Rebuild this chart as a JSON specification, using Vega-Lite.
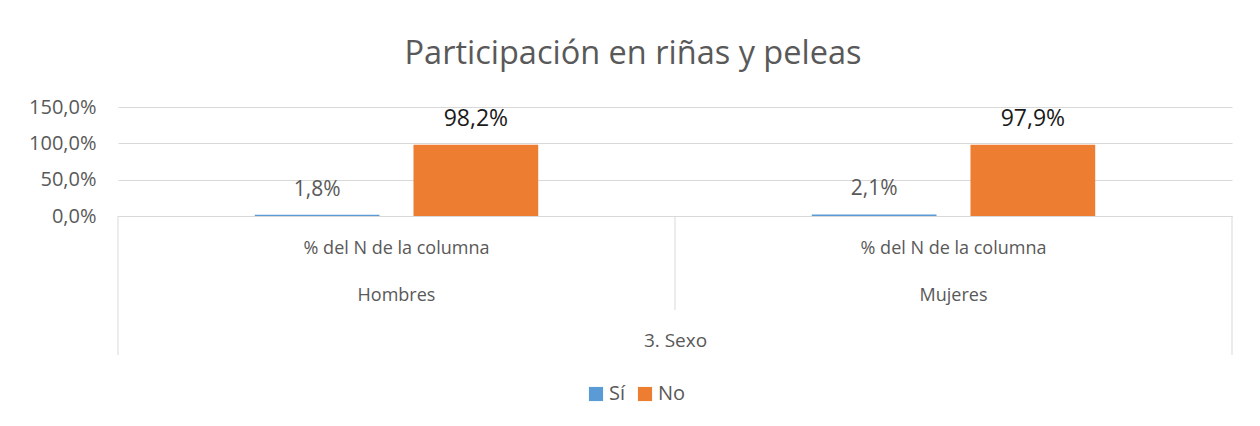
{
  "$schema": "https://vega.github.io/schema/vega-lite/v6.json",
  "autosize": {"type": "none"},
  "width": 1114,
  "height": 109,
  "padding": {"left": 118, "top": 107, "right": 28, "bottom": 210},
  "background": "white",
  "config": {
    "font": "Open Sans",
    "view": {"stroke": null},
    "locale": {"number": {"decimal": ",", "thousands": ".", "grouping": [3], "currency": ["", " €"]}},
    "axisY": {
      "tickCount": 3,
      "labelExpr": "replace(format(datum.value, '.1%'), '.', ',')",
      "labelFontSize": 20,
      "labelColor": "#595959",
      "labelPadding": 22,
      "labelOverlap": false,
      "domain": false,
      "ticks": false,
      "grid": true,
      "gridColor": "#d9d9d9"
    },
    "axisX": {
      "labelAngle": 0,
      "labelExpr": "['% del N de la columna', datum.label]",
      "labelLineHeight": 47,
      "labelBaseline": "top",
      "labelPadding": 23,
      "labelFontSize": 18,
      "labelLimit": 500,
      "labelColor": "#595959",
      "domainColor": "#d9d9d9",
      "ticks": false,
      "grid": false,
      "titleFontSize": 19,
      "titleFontWeight": "normal",
      "titleColor": "#595959",
      "titleY": 124,
      "titleBaseline": "middle"
    }
  },
  "title": {
    "text": "Participación en riñas y peleas",
    "font": "Open Sans",
    "fontSize": 32.5,
    "fontWeight": "normal",
    "color": "#595959",
    "anchor": "middle",
    "dx": -42,
    "offset": 27
  },
  "datasets": {
    "respuestas": [
      {"sexo": "Hombres", "respuesta": "Sí", "pct": 0.018},
      {"sexo": "Hombres", "respuesta": "No", "pct": 0.982},
      {"sexo": "Mujeres", "respuesta": "Sí", "pct": 0.021},
      {"sexo": "Mujeres", "respuesta": "No", "pct": 0.979}
    ],
    "bordes": [
      {"sexo": "Hombres", "borde": "exterior izquierdo"},
      {"sexo": "Mujeres", "borde": "interior"},
      {"sexo": "Mujeres", "borde": "exterior derecho"}
    ]
  },
  "layer": [
    {
      "data": {"name": "respuestas"},
      "mark": {"type": "bar"},
      "encoding": {
        "x": {
          "field": "sexo",
          "type": "nominal",
          "title": "3. Sexo",
          "sort": ["Hombres", "Mujeres"],
          "scale": {"domain": ["Hombres", "Mujeres"], "paddingInner": 0, "paddingOuter": 0}
        },
        "xOffset": {
          "field": "respuesta",
          "type": "nominal",
          "sort": ["Sí", "No"],
          "scale": {"domain": ["Sí", "No"], "paddingInner": 0.214, "paddingOuter": 0.862}
        },
        "y": {
          "field": "pct",
          "type": "quantitative",
          "title": null,
          "scale": {"domain": [0, 1.5], "nice": false}
        },
        "color": {
          "field": "respuesta",
          "type": "nominal",
          "scale": {"domain": ["Sí", "No"], "range": ["#5B9BD5", "#ED7D31"]},
          "legend": {
            "title": null,
            "orient": "none",
            "direction": "horizontal",
            "legendX": 468,
            "legendY": 277,
            "symbolType": "square",
            "symbolSize": 200,
            "symbolStrokeWidth": 0,
            "labelFontSize": 20,
            "labelColor": "#595959",
            "columnPadding": 9,
            "labelOffset": 3
          }
        }
      }
    },
    {
      "data": {"name": "respuestas"},
      "transform": [{"filter": "datum.respuesta === 'No'"}],
      "mark": {"type": "text", "baseline": "middle", "dy": -26, "fontSize": 23, "color": "#1a1a1a"},
      "encoding": {
        "x": {"field": "sexo", "type": "nominal", "title": "3. Sexo"},
        "xOffset": {"field": "respuesta", "type": "nominal"},
        "y": {"field": "pct", "type": "quantitative", "title": null},
        "text": {"field": "pct", "type": "quantitative", "format": ".1%"}
      }
    },
    {
      "data": {"name": "respuestas"},
      "transform": [{"filter": "datum.respuesta === 'Sí'"}],
      "mark": {"type": "text", "baseline": "middle", "dy": -25, "fontSize": 21, "color": "#595959"},
      "encoding": {
        "x": {"field": "sexo", "type": "nominal", "title": "3. Sexo"},
        "xOffset": {"field": "respuesta", "type": "nominal"},
        "y": {"field": "pct", "type": "quantitative", "title": null},
        "text": {"field": "pct", "type": "quantitative", "format": ".1%"}
      }
    },
    {
      "data": {"name": "bordes"},
      "transform": [{"filter": "datum.borde === 'exterior izquierdo'"}],
      "mark": {"type": "rule", "color": "#d9d9d9", "strokeWidth": 1},
      "encoding": {
        "x": {"field": "sexo", "type": "nominal", "title": "3. Sexo", "bandPosition": 0},
        "y": {"datum": 0, "type": "quantitative", "title": null},
        "y2": {"datum": -1.913}
      }
    },
    {
      "data": {"name": "bordes"},
      "transform": [{"filter": "datum.borde === 'interior'"}],
      "mark": {"type": "rule", "color": "#d9d9d9", "strokeWidth": 1},
      "encoding": {
        "x": {"field": "sexo", "type": "nominal", "title": "3. Sexo", "bandPosition": 0},
        "y": {"datum": 0, "type": "quantitative", "title": null},
        "y2": {"datum": -1.294}
      }
    },
    {
      "data": {"name": "bordes"},
      "transform": [{"filter": "datum.borde === 'exterior derecho'"}],
      "mark": {"type": "rule", "color": "#d9d9d9", "strokeWidth": 1},
      "encoding": {
        "x": {"field": "sexo", "type": "nominal", "title": "3. Sexo", "bandPosition": 1},
        "y": {"datum": 0, "type": "quantitative", "title": null},
        "y2": {"datum": -1.913}
      }
    }
  ]
}
